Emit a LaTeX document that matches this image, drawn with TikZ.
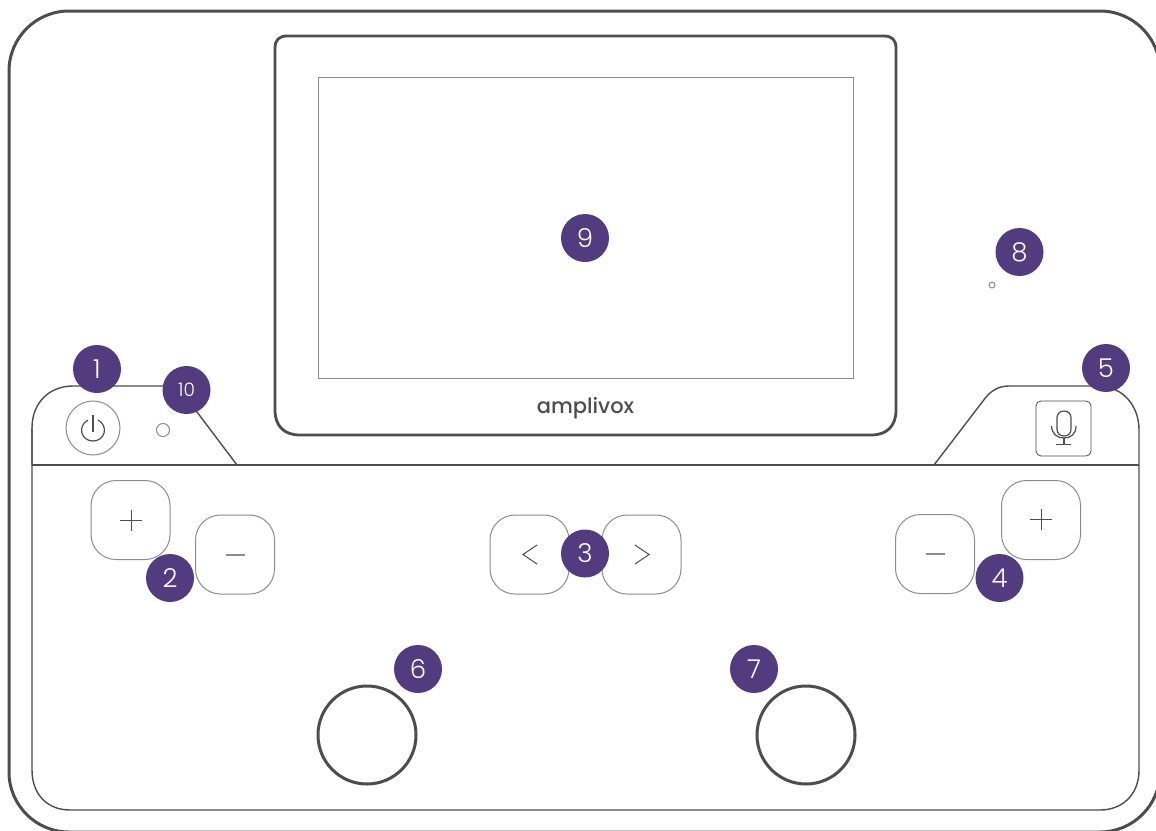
\documentclass[tikz,border=0pt]{standalone}
\usepackage{fontspec}
\setmainfont{Poppins}[UprightFont=*-Light]
\newfontfamily\logofont{Poppins}[UprightFont=*-Medium]
\definecolor{ink}{HTML}{4D4D4D}
\definecolor{soft}{HTML}{8C8C8C}
\definecolor{badgefill}{HTML}{523C7F}
\tikzset{
  x=1pt,y=-1pt,
  body/.style={draw=ink,line width=3pt},
  panel/.style={draw=ink,line width=1.4pt},
  thinline/.style={draw=soft,line width=1pt},
  glyph/.style={draw=ink,line width=1pt},
  btn/.style={thinline,rounded corners=25pt,minimum width=79pt,minimum height=79pt,inner sep=0pt,outer sep=0pt},
  badge/.style={circle,fill=badgefill,text=white,minimum size=48pt,inner sep=0pt,outer sep=0pt,font=\fontsize{26}{26}\selectfont},
  knob/.style={circle,draw=ink,line width=3pt,minimum size=98pt,inner sep=0pt},
  led/.style={circle,thinline,inner sep=0pt},
}
\begin{document}
\begin{tikzpicture}
\useasboundingbox (0,0) rectangle (1156,830);
\clip (0,0) rectangle (1156,830);
\fill[white] (0,0) rectangle (1156,830);
% casing
\draw[body,rounded corners=60pt] (9,11) rectangle (1160,832);
% display
\draw[body,line width=2.8pt] (287,36) -- (884,36) .. controls (892,36) and (896,40) .. (896,48)
  -- (896,410) .. controls (896,426) and (887,435) .. (871,435)
  -- (300,435) .. controls (284,435) and (275,426) .. (275,410)
  -- (275,48) .. controls (275,40) and (279,36) .. (287,36) -- cycle;
\node[draw=soft,line width=1pt,minimum width=535pt,minimum height=301pt,inner sep=0pt] (screen) at (585.5,227.5) {};
\node[font=\logofont\fontsize{21}{21}\selectfont,text=ink,inner sep=0pt,anchor=base] (logo) at (585.5,413) {amplivox};
% panel
\draw[panel] (32,465) -- (32,428) .. controls (32,403) and (49,386) .. (73,386) -- (180,386)
  -- (197,412) -- (237,465);
\draw[panel] (934,465) -- (983,401) .. controls (990,391) and (998,386) .. (1009,386)
  -- (1098,386) .. controls (1122,386) and (1139,405) .. (1139,430) -- (1139,770)
  .. controls (1139,795) and (1122,810) .. (1100,810) -- (70,810)
  .. controls (48,810) and (32,795) .. (32,770) -- (32,428);
\draw[panel] (32,465) -- (1139,465);
% power
\node[led,minimum size=54pt] (power) at (93,428) {};
\draw[glyph,line width=1.2pt] (88,420) .. controls (77,426) and (81,441) .. (93,441) .. controls (105,441) and (109,426) .. (98,420);
\draw[glyph,line width=1.2pt] (93,415) -- (93,432);
\node[led,minimum size=13pt] (ledone) at (163,430) {};
% mic
\node[draw=ink,line width=0.8pt,rounded corners=5pt,minimum width=55pt,minimum height=55pt,inner sep=0pt] (micbox) at (1063.5,428.5) {};
\draw[glyph,line width=1.2pt] (1057,418) .. controls (1057,413.5) and (1060,411) .. (1064,411) .. controls (1068,411) and (1071,413.5) .. (1071,418)
  -- (1071,429) .. controls (1071,433.5) and (1068,436) .. (1064,436) .. controls (1060,436) and (1057,433.5) .. (1057,429) -- cycle;
\draw[glyph,line width=1.2pt] (1051.5,426) .. controls (1052,434) and (1057,438) .. (1064,438) .. controls (1071,438) and (1076,434) .. (1076,426);
\draw[glyph,line width=1.2pt] (1064,438) -- (1064,444) (1056,444.5) -- (1071,444.5);
% buttons
\node[btn] (plusL) at (130.5,520) {};
\node[btn] (minusL) at (235,554.5) {};
\node[btn] (prev) at (529.5,554.5) {};
\node[btn] (next) at (641.5,554.5) {};
\node[btn] (minusR) at (935,554) {};
\node[btn] (plusR) at (1041,520) {};
\draw[glyph] (120,520.5) -- (142,520.5) (131,510) -- (131,531);
\draw[glyph,draw=soft,line width=1.2pt] (226,555) -- (245,555);
\draw[glyph] (537,545) -- (523,554.5) -- (537,564);
\draw[glyph] (635,545) -- (649,554.5) -- (635,564);
\draw[glyph,draw=soft,line width=1.2pt] (926,554) -- (945,554);
\draw[glyph] (1030,519.5) -- (1052,519.5) (1041,509) -- (1041,530);
% knobs and hole
\node[knob] (knobL) at (367,735) {};
\node[knob] (knobR) at (806,735) {};
\node[led,minimum size=6pt] (hole) at (992,285) {};
% badges
\node[badge] (b1) at (97,369) {1};
\node[badge,font=\fontsize{18.5}{18.5}\selectfont] (b10) at (186.5,390) {10};
\node[badge] (b2) at (170,578) {2};
\node[badge] (b3) at (585,553.5) {3};
\node[badge] (b4) at (999.5,578) {4};
\node[badge] (b5) at (1106,368) {5};
\node[badge] (b6) at (418,669) {6};
\node[badge] (b7) at (754,669) {7};
\node[badge] (b8) at (1019.5,252) {8};
\node[badge] (b9) at (585,238) {9};
\end{tikzpicture}
\end{document}
